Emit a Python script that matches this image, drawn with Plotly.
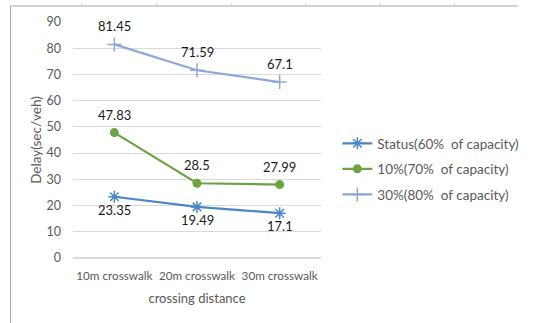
import plotly.graph_objects as go

# Crossing distance categories and delay values (sec/veh)
categories = ["10m crosswalk", "20m crosswalk", "30m crosswalk"]
status_60 = [23.35, 19.49, 17.1]
pct10_70 = [47.83, 28.5, 27.99]
pct30_80 = [81.45, 71.59, 67.1]

series_names = ["Status(60%  of capacity)", "10%(70%  of capacity)", "30%(80%  of capacity)"]
series_colors = ["#4a86c5", "#6aa443", "#8fa6db"]

W, H = 536, 323
L, R, T, B = 73, 205, 22, 65
pw, ph = W - L - R, H - T - B
FONT = "Lato, Open Sans, sans-serif"
GREY = "#595959"

def px_x(x):
    return (x - L) / pw

def px_y(y):
    return (H - B - y) / ph

fig = go.Figure()

fig.add_trace(go.Scatter(
    x=categories, y=status_60, name=series_names[0], mode="lines+markers", legendgroup="a",
    line=dict(color=series_colors[0], width=2.2),
    marker=dict(symbol="asterisk-open", size=10, line=dict(color=series_colors[0], width=1.5)),
))
fig.add_trace(go.Scatter(
    x=categories, y=pct10_70, name=series_names[1], mode="lines+markers", legendgroup="b",
    line=dict(color=series_colors[1], width=2.2),
    marker=dict(symbol="circle", size=9, color=series_colors[1]),
))
fig.add_trace(go.Scatter(
    x=categories, y=pct30_80, name=series_names[2], mode="lines+markers", legendgroup="c",
    line=dict(color=series_colors[2], width=2.2),
    marker=dict(symbol="cross-thin-open", size=10, line=dict(color=series_colors[2], width=1.5)),
))

# Data labels: above for upper series, below for the status series
annotations = []
for vals, shift in ((status_60, -13), (pct10_70, 18), (pct30_80, 18)):
    for c, v in zip(categories, vals):
        annotations.append(dict(
            x=c, y=v, text=f"{v:g}", showarrow=False, yshift=shift,
            font=dict(family=FONT, size=13, color="#1a1a1a"),
        ))

# Outer frame (top and left edges) and small cell ticks above it
shapes = [
    dict(type="line", xref="paper", yref="paper",
         x0=px_x(8), x1=px_x(536), y0=px_y(6), y1=px_y(6),
         line=dict(color="#a6a6a6", width=1)),
    dict(type="line", xref="paper", yref="paper",
         x0=px_x(8), x1=px_x(8), y0=px_y(6), y1=px_y(323),
         line=dict(color="#a6a6a6", width=1)),
]
for tx in (82, 160, 238, 315, 393, 470):
    shapes.append(dict(type="line", xref="paper", yref="paper",
                       x0=px_x(tx), x1=px_x(tx), y0=px_y(3), y1=px_y(6),
                       line=dict(color="#d0d0d0", width=1)))

fig.update_layout(
    width=W, height=H,
    margin=dict(l=L, r=R, t=T, b=B),
    paper_bgcolor="white", plot_bgcolor="white",
    font=dict(family=FONT, size=12, color=GREY),
    showlegend=True,
    legend=dict(
        x=px_x(348), y=px_y(128), xanchor="left", yanchor="top",
        font=dict(family=FONT, size=13.5, color=GREY),
        itemwidth=30, tracegroupgap=5, bgcolor="rgba(0,0,0,0)",
    ),
    xaxis=dict(
        range=[-0.5, 2.5], showgrid=False, zeroline=False, showline=False,
        ticks="", tickfont=dict(family=FONT, size=11.7, color=GREY), ticklabelstandoff=9,
        title=dict(text="crossing distance", font=dict(family=FONT, size=13, color=GREY), standoff=13),
    ),
    yaxis=dict(
        range=[0, 90], dtick=10, showgrid=True, gridcolor="#d9d9d9", gridwidth=1,
        zeroline=True, zerolinecolor="#d9d9d9", showline=False, ticks="",
        tickfont=dict(family=FONT, size=12.5, color=GREY), ticklabelstandoff=11,
        title=dict(text="Delay(sec/veh)", font=dict(family=FONT, size=13.5, color=GREY), standoff=1),
    ),
    annotations=annotations,
    shapes=shapes,
)

fig.write_html("out.html")
